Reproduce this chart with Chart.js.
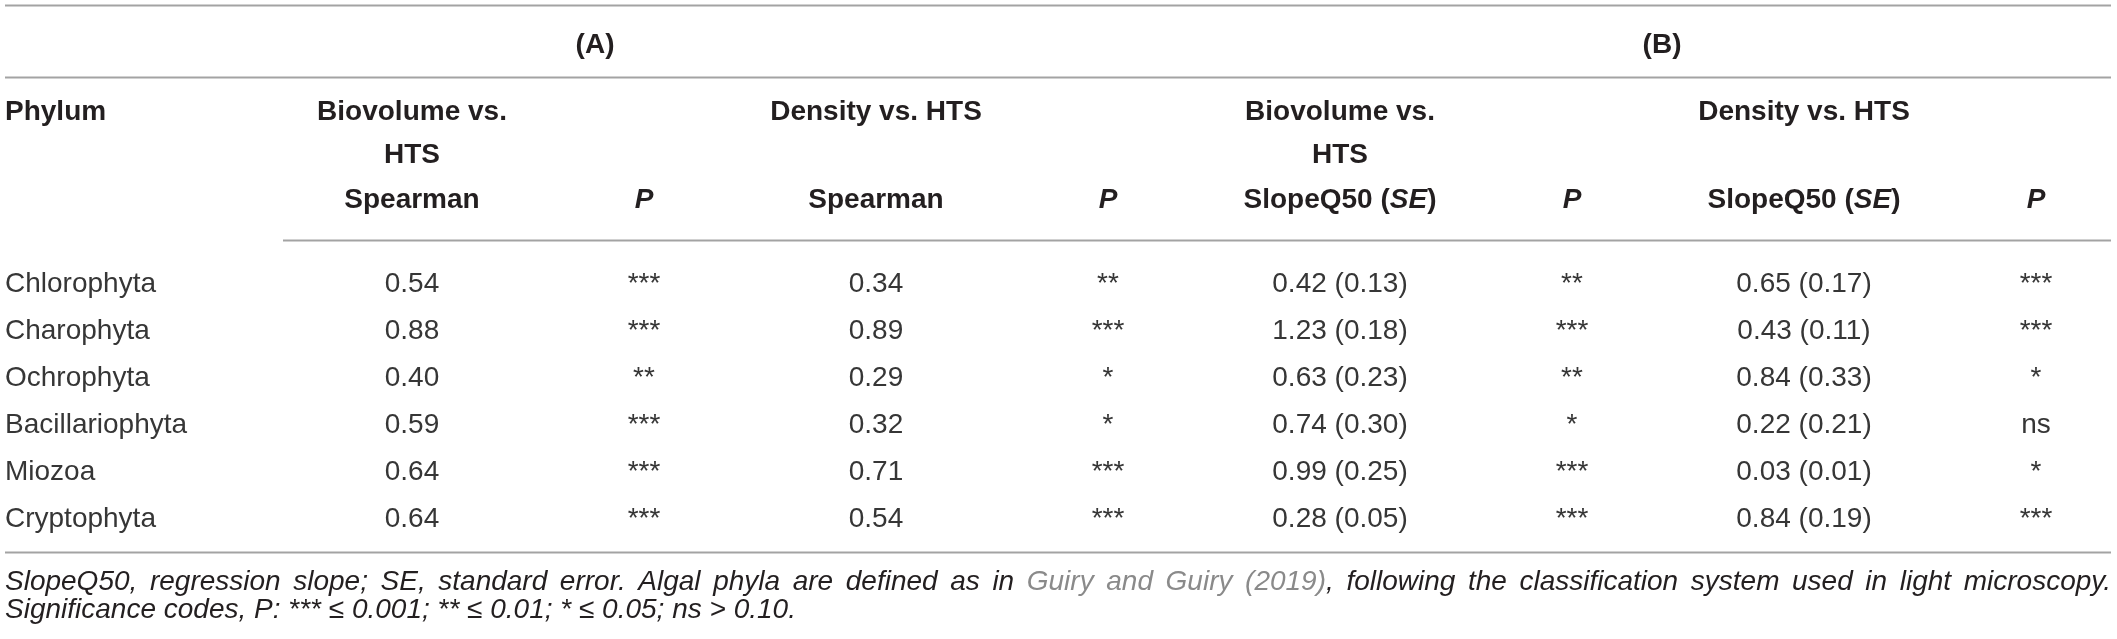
<!DOCTYPE html>
<html>
<head>
<meta charset="utf-8">
<script src="https://cdn.jsdelivr.net/npm/chart.js@4.4.1/dist/chart.umd.min.js"></script>
<style>
  html, body { margin: 0; padding: 0; background: #fff; }
  #wrap { width: 2117px; height: 639px; }
</style>
</head>
<body>
<div id="wrap"><canvas id="table" width="2117" height="639"></canvas></div>
<script>
// table data, one array per column
const phyla = ['Chlorophyta', 'Charophyta', 'Ochrophyta', 'Bacillariophyta', 'Miozoa', 'Cryptophyta']
const spearmanBiovolume = [0.54, 0.88, 0.40, 0.59, 0.64, 0.64]
const pSpearmanBiovolume = ['***', '***', '**', '***', '***', '***']
const spearmanDensity = [0.34, 0.89, 0.29, 0.32, 0.71, 0.54]
const pSpearmanDensity = ['**', '***', '*', '*', '***', '***']
const slopeBiovolume = [0.42, 1.23, 0.63, 0.74, 0.99, 0.28]
const seBiovolume = [0.13, 0.18, 0.23, 0.30, 0.25, 0.05]
const pSlopeBiovolume = ['**', '***', '**', '*', '***', '***']
const slopeDensity = [0.65, 0.43, 0.84, 0.22, 0.03, 0.84]
const seDensity = [0.17, 0.11, 0.33, 0.21, 0.01, 0.19]
const pSlopeDensity = ['***', '***', '*', 'ns', '*', '***']

// header labels
const panelLabels = ['(A)', '(B)']
const comparisonLabels = [['Biovolume vs.', 'HTS'], ['Density vs. HTS']]
const statLabels = ['Spearman', 'P', 'Spearman', 'P', 'SlopeQ50 (SE)', 'P', 'SlopeQ50 (SE)', 'P']

// scales: one x unit = one column, one y unit = one body row
const X_STEP = 232
const X_MIN = 1 - 412 / X_STEP
const X_MAX = X_MIN + 2117 / X_STEP
const Y_STEP = 47
const Y_MIN = -292 / Y_STEP
const Y_MAX = Y_MIN + 639 / Y_STEP

const FAM = '"Liberation Sans", Arial, Helvetica, sans-serif'
const fReg = '28px ' + FAM
const fBold = 'bold 28px ' + FAM
const fBoldIt = 'italic bold 28px ' + FAM
const fIt = 'italic 28px ' + FAM
const INK = '#231f20'
const BODY = '#363636'
const RULE = '#a3a3a3'
const LINK = '#8a8a8a'

const fmt = v => v.toFixed(2)
const rows = phyla.map((_, i) => i)

const columns = [
  { x: X_MIN + 5 / X_STEP, align: 'left', texts: phyla },
  { x: 1, texts: spearmanBiovolume.map(fmt) },
  { x: 2, texts: pSpearmanBiovolume },
  { x: 3, texts: spearmanDensity.map(fmt) },
  { x: 4, texts: pSpearmanDensity },
  { x: 5, texts: slopeBiovolume.map((v, i) => fmt(v) + ' (' + fmt(seBiovolume[i]) + ')') },
  { x: 6, texts: pSlopeBiovolume },
  { x: 7, texts: slopeDensity.map((v, i) => fmt(v) + ' (' + fmt(seDensity[i]) + ')') },
  { x: 8, texts: pSlopeDensity },
]

const datasets = columns.map((c) => ({
  data: rows.map((r) => ({ x: c.x, y: r })),
  texts: c.texts,
  align: c.align || 'center',
  pointRadius: 0,
  showLine: false,
}))

// draw a list of {t, font, color} pieces as one line
function drawRich(ctx, parts, x, y, align) {
  let w = 0
  parts.forEach((p) => { ctx.font = p.font; w += ctx.measureText(p.t).width })
  let cx = align === 'center' ? x - w / 2 : x
  ctx.textAlign = 'left'
  parts.forEach((p) => {
    ctx.font = p.font
    ctx.fillStyle = p.color || INK
    ctx.fillText(p.t, cx, y)
    cx += ctx.measureText(p.t).width
  })
}

function statParts(label) {
  if (label === 'P') return [{ t: 'P', font: fBoldIt }]
  if (label.indexOf('(SE)') >= 0) {
    return [
      { t: label.replace('SE)', ''), font: fBold },
      { t: 'SE', font: fBoldIt },
      { t: ')', font: fBold },
    ]
  }
  return [{ t: label, font: fBold }]
}

const tablePlugin = {
  id: 'tablePlugin',
  afterDatasetsDraw(chart) {
    const ctx = chart.ctx
    const X = (v) => chart.scales.x.getPixelForValue(v)
    const Y = (v) => chart.scales.y.getPixelForValue(v)
    const left = X(X_MIN + 5 / X_STEP)
    const right = X(X_MAX - 6 / X_STEP)
    ctx.save()
    ctx.textBaseline = 'alphabetic'

    // horizontal rules
    ctx.strokeStyle = RULE
    ctx.lineWidth = 2
    const rule = (x0, x1, yv) => {
      ctx.beginPath()
      ctx.moveTo(x0, Math.round(Y(yv)) + 0.5)
      ctx.lineTo(x1, Math.round(Y(yv)) + 0.5)
      ctx.stroke()
    }
    rule(left, right, -6.11)
    rule(left, right, -4.57)
    rule(X(0.444), right, -1.11)
    rule(left, right, 5.53)

    // panel labels (A) (B)
    drawRich(ctx, [{ t: panelLabels[0], font: fBold }], X(1.789), Y(-5.085), 'center')
    drawRich(ctx, [{ t: panelLabels[1], font: fBold }], X(6.388), Y(-5.085), 'center')

    // header rows
    drawRich(ctx, [{ t: 'Phylum', font: fBold }], left, Y(-3.66), 'left')
    ;[1, 5].forEach((c) => {
      comparisonLabels[0].forEach((line, k) => {
        drawRich(ctx, [{ t: line, font: fBold }], X(c), Y(-3.66 + k * 0.915), 'center')
      })
    })
    ;[3, 7].forEach((c) => {
      drawRich(ctx, [{ t: comparisonLabels[1][0], font: fBold }], X(c), Y(-3.66), 'center')
    })
    statLabels.forEach((lab, i) => {
      drawRich(ctx, statParts(lab), X(i + 1), Y(-1.787), 'center')
    })

    // body cells, placed on each dataset point
    chart.data.datasets.forEach((ds, di) => {
      const meta = chart.getDatasetMeta(di)
      ctx.font = fReg
      ctx.fillStyle = BODY
      ctx.textAlign = ds.align
      meta.data.forEach((pt, i) => ctx.fillText(ds.texts[i], pt.x, pt.y))
    })

    // footnote, first line justified
    const plain = 'SlopeQ50, regression slope; SE, standard error. Algal phyla are defined as in'.split(' ')
    const tail = 'following the classification system used in light microscopy.'.split(' ')
    const tokens = []
    plain.forEach((w) => tokens.push([{ t: w, font: fIt, color: INK }]))
    ;['Guiry', 'and', 'Guiry'].forEach((w) => tokens.push([{ t: w, font: fIt, color: LINK }]))
    tokens.push([{ t: '(2019)', font: fIt, color: LINK }, { t: ',', font: fIt, color: INK }])
    tail.forEach((w) => tokens.push([{ t: w, font: fIt, color: INK }]))
    ctx.font = fIt
    const widths = tokens.map((tk) => tk.reduce((s, p) => s + ctx.measureText(p.t).width, 0))
    const total = widths.reduce((a, b) => a + b, 0)
    const gap = (right - left - total) / (tokens.length - 1)
    let cx = left
    tokens.forEach((tk, i) => {
      drawRich(ctx, tk, cx, Y(6.34), 'left')
      cx += widths[i] + gap
    })
    drawRich(ctx, [{ t: 'Significance codes, P: *** \u2264 0.001; ** \u2264 0.01; * \u2264 0.05; ns > 0.10.', font: fIt, color: INK }], left, Y(6.94), 'left')

    ctx.restore()
  },
}

new Chart(document.getElementById('table'), {
  type: 'scatter',
  data: { datasets },
  options: {
    responsive: false,
    devicePixelRatio: 1,
    animation: false,
    events: [],
    layout: { padding: 0 },
    plugins: { legend: { display: false }, tooltip: { enabled: false } },
    scales: {
      x: { type: 'linear', min: X_MIN, max: X_MAX, display: false },
      y: { type: 'linear', min: Y_MIN, max: Y_MAX, reverse: true, display: false },
    },
  },
  plugins: [tablePlugin],
})
</script>
</body>
</html>
